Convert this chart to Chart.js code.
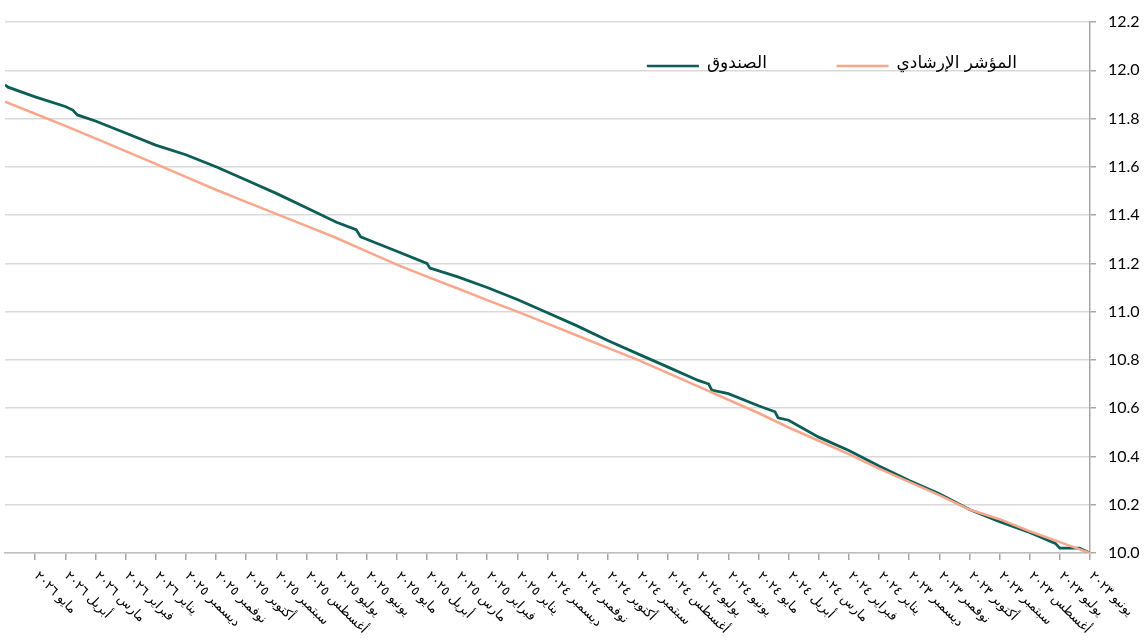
<!DOCTYPE html>
<html lang="ar">
<head>
<meta charset="utf-8">
<title>الصندوق والمؤشر الإرشادي</title>
<script src="https://cdn.jsdelivr.net/npm/chart.js@4.4.1/dist/chart.umd.min.js"></script>
<style>
	body{margin:0;background:#fff;}
	#caja{width:1147px;height:641px;position:relative;}
</style>
</head>
<body>
<div id="caja"><canvas id="graficaFondo"></canvas></div>
<script>
//-------------datos-----------------//
// meses del eje x, 0 = يونيو ٢٠٢٣ (a la derecha)
const etiquetasMes = ['يونيو ٢٠٢٣','يوليو ٢٠٢٣','أغسطس ٢٠٢٣','سبتمبر ٢٠٢٣','أكتوبر ٢٠٢٣','نوفمبر ٢٠٢٣','ديسمبر ٢٠٢٣',
	'يناير ٢٠٢٤','فبراير ٢٠٢٤','مارس ٢٠٢٤','أبريل ٢٠٢٤','مايو ٢٠٢٤','يونيو ٢٠٢٤','يوليو ٢٠٢٤','أغسطس ٢٠٢٤','سبتمبر ٢٠٢٤','أكتوبر ٢٠٢٤','نوفمبر ٢٠٢٤','ديسمبر ٢٠٢٤',
	'يناير ٢٠٢٥','فبراير ٢٠٢٥','مارس ٢٠٢٥','أبريل ٢٠٢٥','مايو ٢٠٢٥','يونيو ٢٠٢٥','يوليو ٢٠٢٥','أغسطس ٢٠٢٥','سبتمبر ٢٠٢٥','أكتوبر ٢٠٢٥','نوفمبر ٢٠٢٥','ديسمبر ٢٠٢٥',
	'يناير ٢٠٢٦','فبراير ٢٠٢٦','مارس ٢٠٢٦','أبريل ٢٠٢٦','مايو ٢٠٢٦'];

// المؤشر الإرشادي (un valor por mes)
const indiceMes = [0,1,2,3,4,5,6,7,8,9,10,11,12,13,14,15,16,17,18,19,20,21,22,23,24,25,26,27,28,29,30,31,32,33,34,35,36];
const indiceValor = [10.00,10.045,10.09,10.14,10.18,10.24,10.295,10.35,10.41,10.465,10.52,10.58,10.635,10.69,10.745,10.80,10.85,10.90,10.95,11.00,
	11.048,11.097,11.145,11.195,11.25,11.305,11.355,11.405,11.455,11.505,11.558,11.612,11.665,11.718,11.77,11.82,11.87];

// الصندوق (con los pequenos saltos)
const fondoMes = [0,0.35,1,1.15,2,3,4,5,6,7,8,9,10,10.35,10.45,11,12,12.55,12.65,13,14,15,16,17,18,19,20,21,21.9,22,23,24,24.2,24.35,25,26,27,28,29,30,31,32,33,33.6,33.75,34,35,35.9,36];
const fondoValor = [10.00,10.02,10.02,10.04,10.085,10.13,10.18,10.245,10.30,10.36,10.425,10.48,10.55,10.56,10.585,10.61,10.66,10.675,10.70,10.715,10.77,10.825,10.88,10.94,10.995,11.05,11.10,11.145,11.18,11.20,11.25,11.30,11.31,11.34,11.37,11.43,11.49,11.545,11.60,11.65,11.69,11.74,11.79,11.815,11.835,11.85,11.89,11.93,11.94];

const ticksY = [10.0,10.2,10.4,10.6,10.8,11.0,11.2,11.4,11.6,11.8,12.0,12.2];

const nombreFondo = 'الصندوق';
const nombreIndice = 'المؤشر الإرشادي';
const colorFondo = '#0b5d56';
const colorIndice = '#f8a78c';
let miGrafica;
//-----------------------------------//

window.onload=function() {
	inicial();
}

function puntos(xs, ys){
	var arr = [];
	for (var i = 0; i < xs.length; i++) {
		arr.push({x: xs[i], y: ys[i]});
	}
	return arr;
}

// etiquetas del eje x, giradas hacia abajo a la derecha
const etiquetasX = {
	id: 'etiquetasX',
	afterDraw(chart){
		const ctx = chart.ctx;
		const sx = chart.scales.x;
		const base = chart.chartArea.bottom;
		ctx.save();
		ctx.font = '13px "DejaVu Sans"';
		ctx.fillStyle = '#000';
		ctx.direction = 'rtl';
		ctx.textAlign = 'left';
		ctx.textBaseline = 'middle';
		for (var i = 0; i < etiquetasMes.length; i++) {
			const px = sx.getPixelForValue(i);
			ctx.save();
			ctx.translate(px + 1, base + 21);
			ctx.rotate(Math.PI/4);
			ctx.fillText(etiquetasMes[i], 0, 0);
			ctx.restore();
		}
		ctx.restore();
	}
};

// leyenda dentro del area
const leyenda = {
	id: 'leyenda',
	afterDraw(chart){
		const ctx = chart.ctx;
		const items = [
			{texto: nombreFondo, color: colorFondo, fin: 767},
			{texto: nombreIndice, color: colorIndice, fin: 1017}
		];
		ctx.save();
		ctx.font = '17px "DejaVu Sans"';
		ctx.direction = 'rtl';
		ctx.textAlign = 'right';
		ctx.textBaseline = 'middle';
		items.forEach(function(it){
			const w = ctx.measureText(it.texto).width;
			ctx.fillStyle = '#000';
			ctx.fillText(it.texto, it.fin, 64);
			ctx.strokeStyle = it.color;
			ctx.lineWidth = 2.5;
			ctx.beginPath();
			ctx.moveTo(it.fin - w - 8, 66);
			ctx.lineTo(it.fin - w - 60, 66);
			ctx.stroke();
		});
		ctx.restore();
	}
};

function inicial(){
	const ctx = document.getElementById('graficaFondo').getContext('2d');
	miGrafica = new Chart(ctx, {
		type: 'line',
		data: {
			datasets: [{
				label: nombreIndice,
				data: puntos(indiceMes, indiceValor),
				borderColor: colorIndice,
				borderWidth: 2.5,
				pointRadius: 0,
				tension: 0
			},{
				label: nombreFondo,
				data: puntos(fondoMes, fondoValor),
				borderColor: colorFondo,
				borderWidth: 2.8,
				pointRadius: 0,
				tension: 0
			}]
		},
		options: {
			responsive: true,
			maintainAspectRatio: false,
			animation: false,
			layout: { padding: { left: 5, top: 22, right: 0, bottom: 0 } },
			plugins: {
				legend: { display: false },
				tooltip: { enabled: false }
			},
			scales: {
				x: {
					type: 'linear',
					reverse: true,
					min: 0,
					max: 36,
					afterBuildTicks: function(s){
						s.ticks = [];
						for (var i = 0; i < etiquetasMes.length; i++) s.ticks.push({value: i});
					},
					afterFit: function(s){ s.height = 88; },
					ticks: { display: false },
					grid: { drawOnChartArea: false, tickLength: 7, tickColor: '#a6a6a6', lineWidth: 1.5 },
					border: { color: '#bfbfbf', width: 1.5 }
				},
				y: {
					position: 'right',
					min: 10,
					max: 12.2,
					afterBuildTicks: function(s){
						s.ticks = ticksY.map(function(v){ return {value: v}; });
					},
					afterFit: function(s){ s.width = 57; },
					ticks: {
						padding: 12,
						color: '#000',
						font: { family: 'Lato', size: 16 },
						callback: function(v){ return Number(v).toFixed(1); }
					},
					grid: { color: '#d9d9d9', lineWidth: 1.5, tickLength: 6, tickColor: '#a6a6a6' },
					border: { color: '#a6a6a6', width: 1.5 }
				}
			}
		},
		plugins: [etiquetasX, leyenda]
	});
}
</script>
</body>
</html>
